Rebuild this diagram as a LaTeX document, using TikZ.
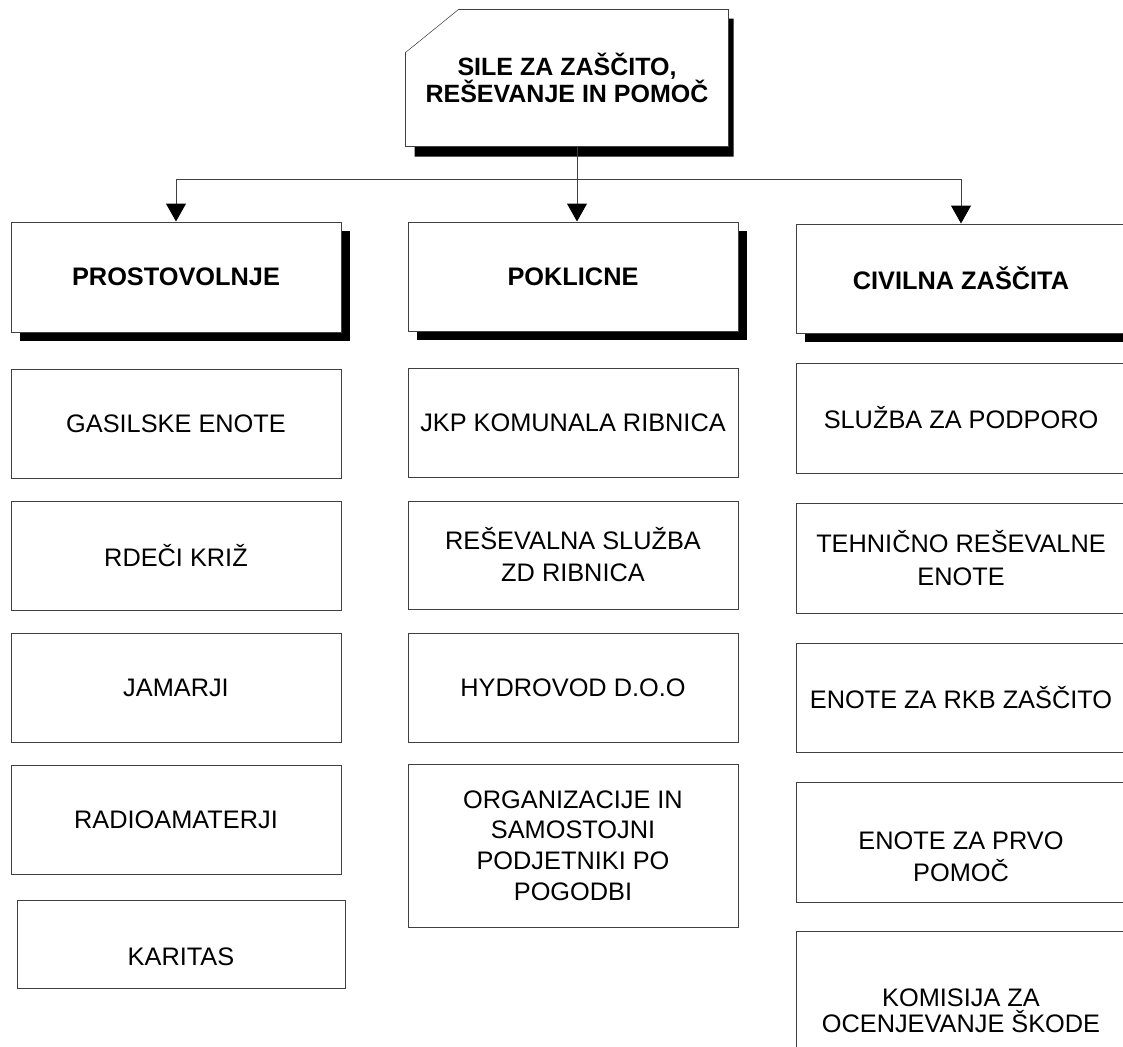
\documentclass[tikz,border=0pt]{standalone}
\usepackage{fontspec}
\setmainfont{Liberation Sans}
\usetikzlibrary{positioning,shadows,calc,arrows.meta,backgrounds}

\begin{document}
\begin{tikzpicture}
[
  x=0.75pt, y=-0.75pt,
  line width=0.75pt,
  on grid,
  node distance=99pt,
  subbox/.style={rectangle, draw=black!75, fill=white, inner sep=0pt, align=center,
    minimum width=247.5pt, minimum height=81.75pt, font=\fontsize{19}{24}\selectfont},
  headbox/.style={subbox, font=\fontsize{19}{24}\selectfont\bfseries,
    drop shadow={shadow xshift=6.75pt, shadow yshift=-6.75pt, fill=black, opacity=1}},
  titlebox/.style={rectangle, inner sep=0pt, align=center,
    minimum width=241.5pt, minimum height=102pt,
    font=\fontsize{18.75}{19.5}\selectfont\bfseries},
  sublabel/.style={align=center, inner sep=0pt, font=\fontsize{19}{24}\selectfont},
  link/.style={draw=black!75, -{Triangle[width=15pt,length=13.5pt,color=black]}}
]
 \useasboundingbox (0,0) rectangle (1123,1046);

 \node[titlebox] (sile) at (567,78) {SILE ZA ZAŠČITO,\\REŠEVANJE IN POMOČ};
 \begin{scope}[on background layer]
  \fill[black] ($(sile.north west)+(9,52)$) -- ($(sile.north west)+(62,9)$)
    -- ($(sile.north east)+(5,9)$) -- ($(sile.south east)+(5,10)$)
    -- ($(sile.south west)+(9,10)$) -- cycle;
  \draw[draw=black!75, fill=white] ($(sile.north west)+(0,43)$) -- ($(sile.north west)+(53,0)$)
    -- (sile.north east) -- (sile.south east) -- (sile.south west) -- cycle;
 \end{scope}

 \node[headbox, minimum height=82.5pt] (prost) at (176,277) {PROSTOVOLNJE};
 \node[headbox] (pokl) at (573,276.5) {POKLICNE};
 \node[headbox] (civil) at (961,278.5) {CIVILNA ZAŠČITA};

 \node[subbox] (gas) at (176,423.5) {GASILSKE ENOTE};
 \node[subbox] (rdeci) [below=of gas] {RDEČI KRIŽ};
 \node[subbox] (jam) [below=of rdeci] {JAMARJI};
 \node[subbox] (radio) [below=of jam] {RADIOAMATERJI};
 \node[subbox, minimum width=246pt, minimum height=66pt] (karitas) at (181,944) {};
 \node[sublabel] (kartext) at ($(karitas.center)+(0,13)$) {KARITAS};

 \node[subbox] (jkp) at (573,422.5) {JKP KOMUNALA RIBNICA};
 \node[subbox, minimum height=81pt] (resev) at (573,555) {REŠEVALNA SLUŽBA\\ZD RIBNICA};
 \node[subbox] (hydro) at (573,687.5) {HYDROVOD D.O.O};
 \node[subbox, minimum height=122.25pt, font=\fontsize{19}{23}\selectfont] (organ) at (573,845.5)
   {ORGANIZACIJE IN\\SAMOSTOJNI\\PODJETNIKI PO\\POGODBI};

 \node[subbox, minimum height=82.5pt] (sluzba) at (961,418) {SLUŽBA ZA PODPORO};
 \node[subbox, minimum height=82.5pt, font=\fontsize{19}{25}\selectfont] (tehn) at (961,558)
   {TEHNIČNO REŠEVALNE\\ENOTE};
 \node[subbox] (rkb) at (961,697.5) {ENOTE ZA RKB ZAŠČITO};
 \node[subbox, minimum height=90pt] (prvo) at (961,842) {};
 \node[sublabel] (prvotext) at ($(prvo.center)+(0,15)$) {ENOTE ZA PRVO\\POMOČ};
 \node[subbox, minimum height=120pt, font=\fontsize{19}{19.5}\selectfont] (komisija) at (961,1011)
   {KOMISIJA ZA\\OCENJEVANJE ŠKODE};

 \coordinate (hub) at (577,179);
 \draw[link] (hub |- sile.south) -- (hub |- pokl.north);
 \draw[link] (hub) -| (prost.north);
 \draw[link] (hub) -| (civil.north);
\end{tikzpicture}
\end{document}
